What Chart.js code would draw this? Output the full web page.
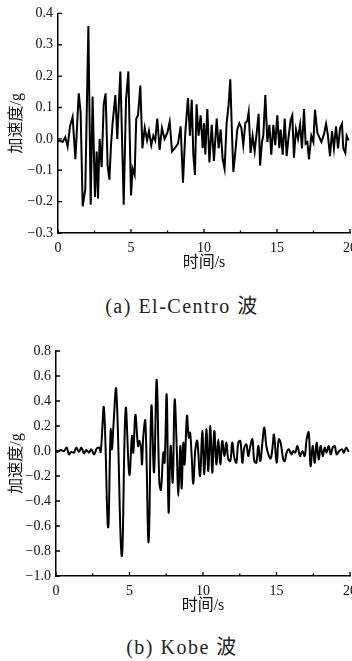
<!DOCTYPE html>
<html>
<head>
<meta charset="utf-8">
<script src="https://cdn.jsdelivr.net/npm/chart.js@4"></script>
<style>
  html, body { margin: 0; padding: 0; background: #fff; }
  body { width: 352px; height: 661px; overflow: hidden; position: relative; }
  canvas { position: absolute; left: 0; }
  #c1 { top: 0; }
  #c2 { top: 330px; }
  .cap { position: absolute; left: 6px; width: 352px; text-align: center;
         font: 20px 'Liberation Serif', 'DejaVu Serif', 'Noto Sans CJK SC', serif; letter-spacing: 1.5px; color: #222; }
</style>
</head>
<body>
<canvas id="c1" width="372" height="275"></canvas>
<canvas id="c2" width="372" height="290"></canvas>
<div class="cap" style="top:290px">(a) El-Centro 波</div>
<div class="cap" style="top:631px">(b) Kobe 波</div>
<script>
// El-Centro record (time s, acceleration g)
const elTime = [0, 0.09, 0.32, 0.5, 0.66, 0.82, 1.0, 1.19, 1.42, 1.55, 1.69, 1.87, 2.08, 2.24, 2.37, 2.53, 2.65, 2.74, 2.85, 2.99,
  3.13, 3.26, 3.4, 3.52, 3.63, 3.74, 3.93, 4.06, 4.27, 4.5, 4.66, 4.82, 5.0, 5.11, 5.25, 5.36, 5.48, 5.64, 5.78, 5.94,
  6.1, 6.23, 6.39, 6.53, 6.66, 6.8, 6.96, 7.12, 7.3, 7.49, 7.65, 7.81, 7.99, 8.22, 8.4, 8.56, 8.72, 8.9, 9.04, 9.16,
  9.27, 9.38, 9.49, 9.63, 9.77, 9.91, 10.0, 10.09, 10.23, 10.37, 10.53, 10.68, 10.87, 11.0, 11.14, 11.28, 11.41, 11.55, 11.69, 11.8,
  11.92, 12.01, 12.15, 12.28, 12.42, 12.56, 12.69, 12.83, 12.97, 13.06, 13.19, 13.33, 13.47, 13.61, 13.74, 13.84, 13.97, 14.06, 14.2, 14.34,
  14.48, 14.61, 14.75, 14.88, 15.02, 15.16, 15.25, 15.39, 15.53, 15.66, 15.8, 15.94, 16.05, 16.16, 16.3, 16.44, 16.58, 16.71, 16.85, 16.96,
  17.08, 17.19, 17.35, 17.49, 17.6, 17.76, 17.9, 18.04, 18.22, 18.36, 18.49, 18.63, 18.77, 18.9, 19.04, 19.18, 19.32, 19.45, 19.54, 19.68,
  19.77, 19.91];
const elAcc = [-0.01, -0.005, -0.01, 0.005, -0.025, 0.04, 0.07, -0.065, 0.145, 0.085, -0.215, -0.16, 0.36, -0.21, 0.135, -0.185, -0.04, -0.19, 0.0, -0.09,
  0.11, 0.145, -0.085, -0.13, -0.02, 0.05, 0.14, 0.0, 0.215, -0.21, 0.125, 0.215, -0.18, -0.095, -0.115, 0.065, 0.075, 0.17, -0.03, 0.035,
  -0.005, 0.025, -0.02, 0.01, -0.005, 0.065, -0.035, 0.035, 0.0, 0.02, 0.055, -0.04, -0.03, -0.015, 0.04, -0.14, 0.02, 0.13, 0.01, 0.125,
  -0.05, -0.115, 0.11, 0.01, 0.075, -0.03, 0.05, -0.05, 0.095, -0.075, 0.045, -0.07, 0.065, -0.03, 0.03, -0.065, -0.095, 0.05, 0.11, 0.19,
  0.01, -0.105, -0.04, 0.03, 0.05, 0.035, -0.02, 0.05, 0.058, 0.085, -0.045, 0.01, -0.04, 0.02, 0.08, -0.085, -0.01, 0.01, 0.14, -0.01,
  0.045, -0.05, 0.045, -0.02, 0.075, -0.03, 0.03, -0.05, 0.065, -0.055, 0.01, 0.06, 0.075, -0.06, 0.03, 0.0, 0.045, -0.03, 0.095, -0.015,
  -0.01, -0.065, 0.01, -0.01, 0.093, 0.02, 0.005, -0.01, 0.015, 0.048, 0.01, -0.055, 0.025, -0.03, 0.04, -0.03, 0.035, 0.048, -0.03, -0.045,
  0.01, -0.005];

// Kobe record (time s, acceleration g)
const kobeTime = [0, 0.09, 0.32, 0.54, 0.73, 0.88, 1.04, 1.22, 1.38, 1.56, 1.72, 1.9, 2.06, 2.24, 2.4, 2.59, 2.77, 2.93, 3.04, 3.26,
  3.54, 3.72, 3.81, 3.9, 4.1, 4.47, 4.74, 4.99, 5.17, 5.26, 5.4, 5.58, 5.67, 5.78, 5.85, 5.94, 6.08, 6.3, 6.49, 6.67,
  6.85, 7.03, 7.14, 7.3, 7.39, 7.53, 7.66, 7.8, 7.94, 8.07, 8.21, 8.32, 8.46, 8.55, 8.66, 8.75, 8.91, 9.03, 9.12, 9.23,
  9.34, 9.48, 9.61, 9.8, 9.95, 10.09, 10.23, 10.36, 10.5, 10.63, 10.77, 10.91, 11.04, 11.18, 11.31, 11.45, 11.59, 11.72, 11.86, 11.99,
  12.13, 12.27, 12.4, 12.54, 12.68, 12.81, 12.95, 13.08, 13.22, 13.36, 13.49, 13.63, 13.76, 13.9, 14.04, 14.17, 14.31, 14.45, 14.6, 14.72,
  14.83, 15.01, 15.15, 15.28, 15.46, 15.56, 15.69, 15.85, 16.01, 16.14, 16.28, 16.42, 16.6, 16.76, 16.92, 17.05, 17.19, 17.32, 17.46, 17.6,
  17.73, 17.87, 18.0, 18.14, 18.28, 18.41, 18.55, 18.69, 18.82, 18.96, 19.09, 19.27, 19.46, 19.59, 19.73, 19.91];
const kobeAcc = [0.0, -0.008, 0.008, 0.0, 0.027, -0.027, -0.008, -0.013, 0.027, -0.008, 0.027, -0.019, 0.008, -0.013, 0.013, -0.027, 0.019, 0.027, -0.008, 0.345,
  -0.61, 0.17, 0.013, 0.19, 0.49, -0.84, 0.34, -0.19, 0.12, -0.013, 0.29, 0.04, 0.08, 0.027, -0.107, 0.12, 0.24, -0.73, 0.36, -0.17,
  0.57, -0.25, -0.31, -0.013, -0.093, 0.45, -0.49, 0.04, -0.25, 0.41, 0.04, -0.36, 0.04, -0.3, 0.067, -0.107, 0.28, 0.107, 0.147, -0.04,
  -0.26, 0.013, 0.08, -0.2, 0.16, -0.187, 0.173, -0.16, 0.2, -0.173, 0.16, -0.107, 0.093, -0.107, 0.08, -0.04, 0.067, -0.067, -0.08, 0.067,
  -0.053, -0.093, 0.067, 0.08, -0.093, 0.027, 0.053, -0.04, 0.04, 0.093, -0.08, -0.093, 0.04, -0.08, 0.067, 0.187, 0.04, -0.027, -0.06, 0.02,
  0.13, -0.093, 0.093, 0.067, -0.067, -0.08, -0.013, 0.013, -0.027, 0.0, -0.013, 0.04, -0.04, 0.0, -0.04, 0.093, 0.15, -0.12, 0.04, -0.093,
  0.067, -0.067, 0.04, -0.04, 0.027, -0.013, 0.04, -0.027, 0.027, 0.04, -0.027, 0.0, 0.013, -0.013, 0.027, -0.008];

const xTicks = [0, 5, 10, 15, 20];
const elYTicks = [-0.3, -0.2, -0.1, 0.0, 0.1, 0.2, 0.3, 0.4];
const kobeYTicks = [-1.0, -0.8, -0.6, -0.4, -0.2, 0.0, 0.2, 0.4, 0.6, 0.8];

const serif = "'Liberation Serif', 'DejaVu Serif', serif";
const titleFont = "'Liberation Serif', 'DejaVu Serif', 'Noto Sans CJK SC', serif";

// inward tick marks (major + minor on x, major on y)
const inwardTicks = {
  id: 'inwardTicks',
  afterDraw(chart) {
    const { ctx, chartArea: a, scales: { x, y } } = chart;
    ctx.save();
    ctx.strokeStyle = '#000';
    ctx.lineWidth = 1.3;
    ctx.beginPath();
    for (let v = x.min; v <= x.max + 0.01; v += 2.5) {
      const px = x.getPixelForValue(v);
      const len = (v % 5 === 0) ? 4 : 2.5;
      ctx.moveTo(px, a.bottom); ctx.lineTo(px, a.bottom - len);
    }
    y.ticks.forEach(t => {
      const py = y.getPixelForValue(t.value);
      ctx.moveTo(a.left, py); ctx.lineTo(a.left + 4, py);
    });
    ctx.stroke();
    ctx.restore();
  }
};

function fmt(v) {
  return v.toFixed(1).replace('-', '\u2212');
}

function makeChart(id, time, acc, yTicks, opt) {
  return new Chart(document.getElementById(id), {
    type: 'line',
    data: {
      datasets: [{
        data: time.map((t, i) => ({ x: t, y: acc[i] })),
        borderColor: '#000',
        borderWidth: 2,
        pointRadius: 0,
        tension: opt.tension,
        fill: false
      }]
    },
    options: {
      responsive: false,
      animation: false,
      layout: { padding: { top: opt.top, right: 22, left: 0, bottom: 0 } },
      plugins: { legend: { display: false }, tooltip: { enabled: false } },
      scales: {
        x: {
          type: 'linear',
          min: 0, max: 20,
          afterBuildTicks: s => { s.ticks = xTicks.map(v => ({ value: v })); },
          afterFit: s => { s.height = opt.xh; },
          grid: { display: false, drawTicks: false },
          border: { display: true, color: '#000', width: 1.5 },
          ticks: { padding: 7, color: '#111', font: { family: serif, size: 14 }, maxRotation: 0 },
          title: { display: true, text: '时间/s', color: '#111', font: { family: titleFont, size: 16 },
                   padding: { top: 0, bottom: opt.tpb } }
        },
        y: {
          min: yTicks[0], max: yTicks[yTicks.length - 1],
          afterBuildTicks: s => { s.ticks = yTicks.map(v => ({ value: v })); },
          afterFit: s => { s.width = opt.yw; },
          grid: { display: false, drawTicks: false },
          border: { display: true, color: '#000', width: 1.5 },
          ticks: { padding: 5, color: '#111', font: { family: serif, size: 14 }, callback: v => fmt(v) },
          title: { display: true, text: '加速度/g', color: '#111', font: { family: titleFont, size: 16 },
                   padding: { top: 7, bottom: 0 } }
        }
      }
    },
    plugins: [inwardTicks]
  });
}

makeChart('c1', elTime, elAcc, elYTicks, { top: 12, xh: 42, yw: 58, tpb: 2.4, tension: 0 });
makeChart('c2', kobeTime, kobeAcc, kobeYTicks, { top: 21, xh: 44, yw: 56, tpb: 4.4, tension: 0.4 });
</script>
</body>
</html>
